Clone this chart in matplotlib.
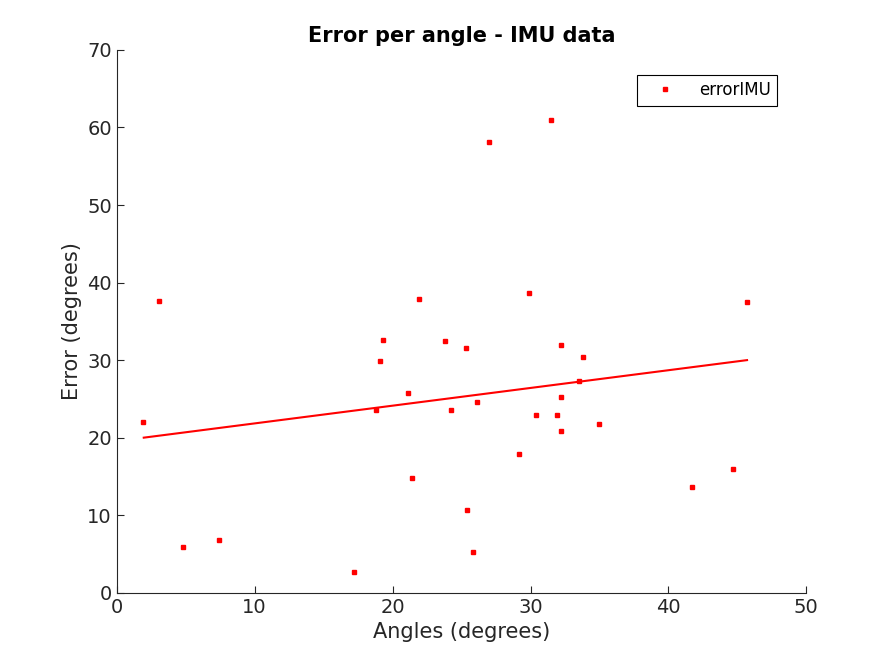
import matplotlib
matplotlib.use("Agg")
import matplotlib.pyplot as plt

angles = [1.88, 3.04, 4.8, 7.4, 17.2, 18.8, 19.1, 19.3, 21.1, 21.4, 21.9, 23.8, 24.2, 25.3, 25.4, 25.8,
          26.1, 27.0, 29.2, 29.9, 30.4, 31.5, 31.9, 32.2, 32.2, 32.2, 33.5, 33.8, 35.0, 41.7, 44.7, 45.7]
errors = [22.0, 37.6, 5.9, 6.8, 2.7, 23.6, 29.9, 32.6, 25.8, 14.8, 37.9, 32.5, 23.6, 31.5, 10.7, 5.2,
          24.6, 58.1, 17.9, 38.7, 22.9, 61.0, 22.9, 20.8, 32.0, 25.3, 27.3, 30.4, 21.8, 13.7, 15.9, 37.5]
fit_x = [1.96, 45.7]
fit_y = [20.0, 30.0]

plt.rcParams['font.family'] = ['DejaVu Sans']
fig = plt.figure(figsize=(8.91, 6.66), dpi=100)
ax = fig.add_axes([0.131, 0.110, 0.774, 0.815])
ax.plot(angles, errors, 's', color='red', markersize=2.2, linestyle='none', label='errorIMU')
ax.plot(fit_x, fit_y, '-', color='red', linewidth=1.5)
ax.set_xlim(0, 50)
ax.set_ylim(0, 70)
ax.set_xticks(range(0, 51, 10))
ax.set_yticks(range(0, 71, 10))
for s in ['top', 'right']:
    ax.spines[s].set_visible(False)
for s in ['left', 'bottom']:
    ax.spines[s].set_color('#262626')
ax.tick_params(direction='in', labelsize=14, colors='#262626', length=5)
ax.set_xlabel('Angles (degrees)', fontsize=15, color='#262626')
ax.set_ylabel('Error (degrees)', fontsize=15, color='#262626')
ax.set_title('Error per angle - IMU data', fontsize=15, fontweight='bold')
leg = ax.legend(loc='upper right', bbox_to_anchor=(0.97, 0.97), fontsize=12, fancybox=False,
                framealpha=1, edgecolor='black', handlelength=2.5, markerscale=1.2)
leg.get_frame().set_linewidth(0.8)
fig.savefig('out.png', dpi=100)
